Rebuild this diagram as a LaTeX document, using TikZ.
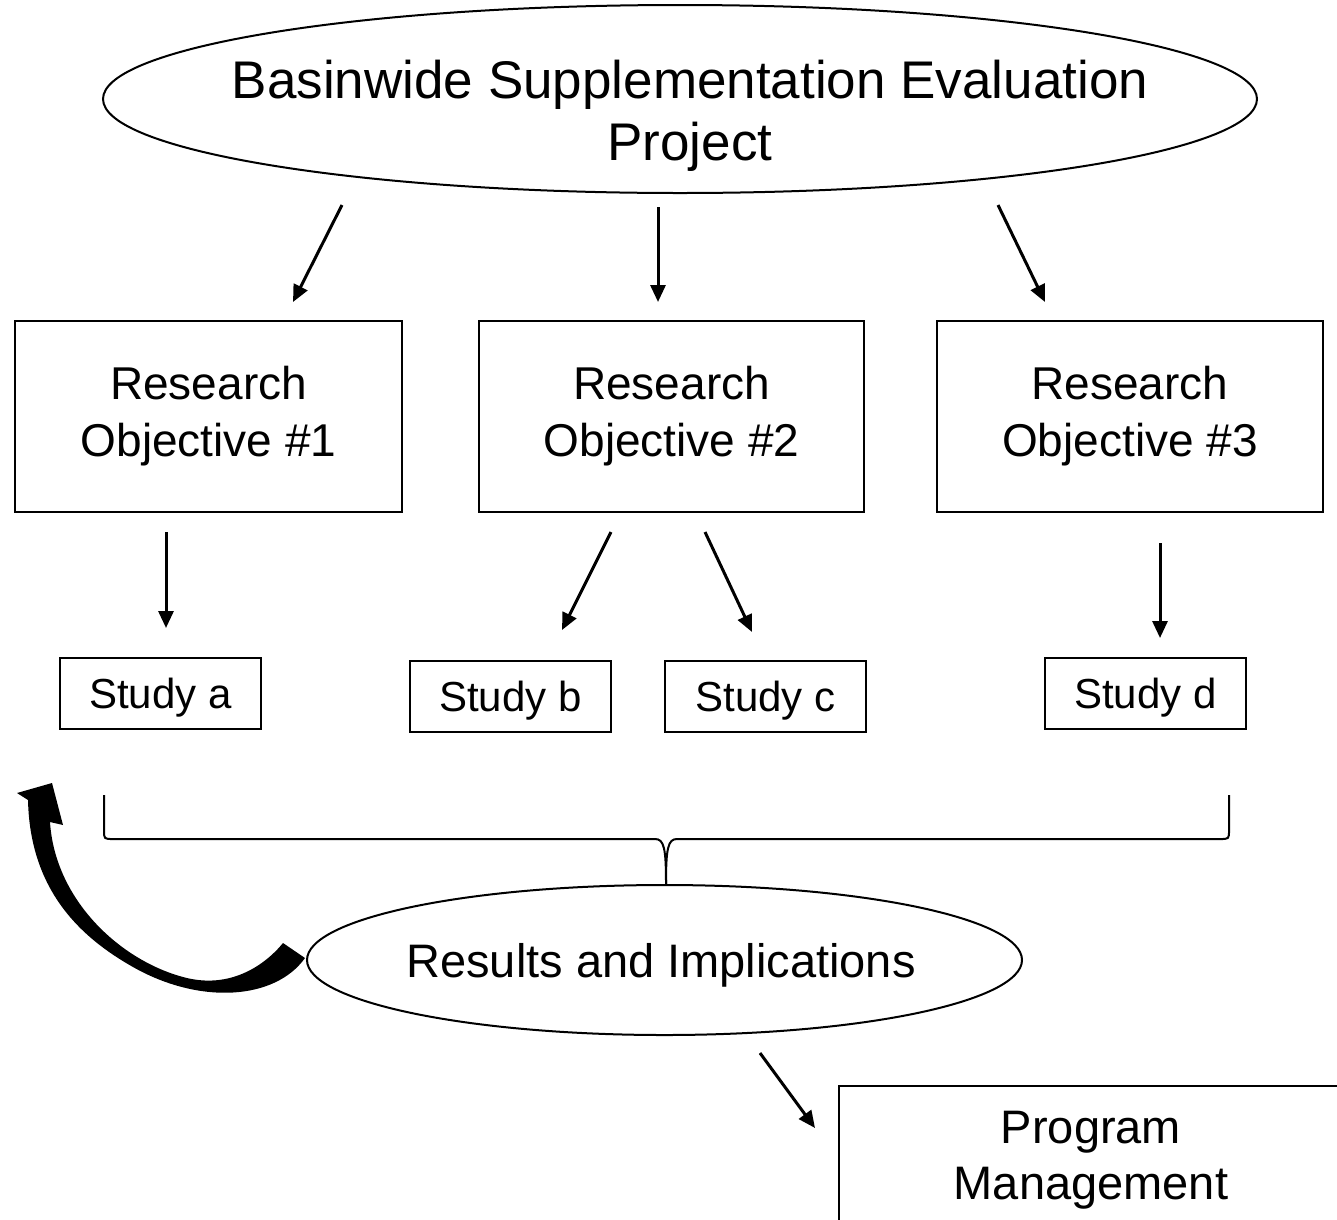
\documentclass[tikz,border=0pt]{standalone}
\usepackage{fontspec}
\setmainfont{Liberation Sans}
\usetikzlibrary{shapes.geometric,arrows.meta}
\begin{document}
\begin{tikzpicture}[x=1pt,y=-1pt,
 box/.style={draw,line width=2pt,minimum width=387pt,minimum height=191pt,inner sep=0pt,align=center,font=\fontsize{46}{57}\selectfont},
 sbox/.style={draw,line width=1.6pt,minimum width=201pt,minimum height=71pt,inner sep=0pt,text depth=0pt,font=\fontsize{42}{50}\selectfont},
 arr/.style={line width=3pt,-{Triangle[length=17pt,width=15pt]}},
 ell/.style={draw,ellipse,line width=2pt,inner sep=0pt},
 lbl/.style={align=center,inner sep=0pt}]
\clip (0,0) rectangle (1337,1219);
\fill[white] (0,0) rectangle (1337,1219);

% top ellipse
\node[ell,minimum width=1154pt,minimum height=188pt] (proj) at (680,99) {};
\node[lbl,font=\fontsize{53}{62}\selectfont] (projtxt) at (690,116) {Basinwide Supplementation Evaluation\\Project};

% research objectives
\node[box] (ro1) at (208.5,416.5) {Research\\Objective \#1};
\node[box,minimum width=385pt] (ro2) at (671.5,416.5) {Research\\Objective \#2};
\node[box,minimum width=386pt] (ro3) at (1130,416.5) {Research\\Objective \#3};

% studies
\node[sbox] (sa) at (160.5,693.5) {Study a};
\node[sbox] (sb) at (510.5,696.5) {Study b};
\node[sbox] (sc) at (765.5,696.5) {Study c};
\node[sbox] (sd) at (1145.5,693.5) {Study d};

% results ellipse
\node[ell,minimum width=715pt,minimum height=150pt] (res) at (664.5,960) {};
\node[lbl,text depth=0pt,font=\fontsize{47}{56}\selectfont] (restxt) at (661,960) {Results and Implications};

% program management box (clipped by the picture edge)
\node[draw,line width=2pt,minimum width=520pt,minimum height=170pt,anchor=north west,inner sep=0pt] (pm) at (838,1085) {};
\node[lbl,font=\fontsize{47}{56}\selectfont] (pmtxt) at (1091,1160) {Program\\Management};

% arrow end points
\coordinate (a1s) at (342,205); \coordinate (a1e) at (293,302);
\coordinate (a2s) at (658,207); \coordinate (a2e) at (658,302);
\coordinate (a3s) at (998,205); \coordinate (a3e) at (1045,302);
\coordinate (b1s) at (166,532); \coordinate (b1e) at (166,628);
\coordinate (b2s) at (611,532); \coordinate (b2e) at (562,630);
\coordinate (b3s) at (705,532); \coordinate (b3e) at (752,632);
\coordinate (b4s) at (1160,543); \coordinate (b4e) at (1160,638);
\coordinate (c1s) at (760,1053); \coordinate (c1e) at (815,1128);

\draw[arr] (a1s) -- (a1e);
\draw[arr] (a2s) -- (a2e);
\draw[arr] (a3s) -- (a3e);
\draw[arr] (b1s) -- (b1e);
\draw[arr] (b2s) -- (b2e);
\draw[arr] (b3s) -- (b3e);
\draw[arr] (b4s) -- (b4e);
\draw[arr] (c1s) -- (c1e);

% brace
\coordinate (brL) at (104,795);
\coordinate (brR) at (1229,795);
\coordinate (brM) at (666,884);
\draw[line width=2pt,line join=round] (brL) -- (104,830) .. controls (104,839) .. (113,839) -- (655,839) .. controls (664,839) and (666,848) .. (brM);
\draw[line width=2pt,line join=round] (brR) -- (1229,830) .. controls (1229,839) .. (1220,839) -- (677,839) .. controls (668,839) and (666,848) .. (brM);

% thick curved feedback arrow
\fill (305,958) .. controls (275,1000) and (200,1005) .. (133,967)
  .. controls (80,937) and (30,890) .. (28,800)
  -- (17,793) -- (52,783) -- (63,825) -- (50,822)
  .. controls (55,900) and (120,960) .. (183,977)
  .. controls (230,990) and (265,965) .. (283,943) -- cycle;
\end{tikzpicture}
\end{document}
